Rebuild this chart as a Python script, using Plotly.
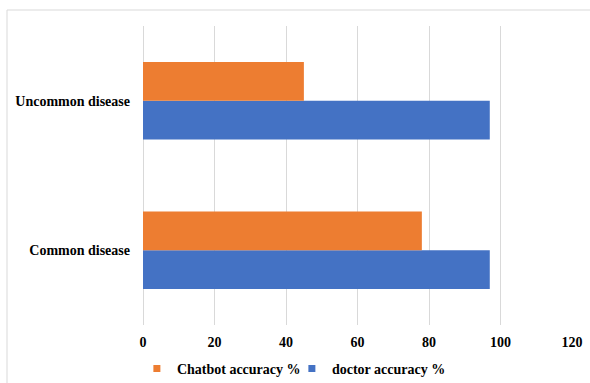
import plotly.graph_objects as go

categories = ["Common disease", "Uncommon disease"]
chatbot_accuracy = [78, 45]
doctor_accuracy = [97, 97]
x_ticks = [0, 20, 40, 60, 80, 100, 120]

ORANGE = "#ED7D31"
BLUE = "#4472C4"
FAMILY = "'Liberation Serif', 'Times New Roman', Times, serif"
FONT = dict(family=FAMILY, size=14, color="#000000", weight="bold")

fig = go.Figure()
fig.add_trace(go.Bar(y=categories, x=doctor_accuracy, orientation="h",
                     marker=dict(color=BLUE, line=dict(width=0)),
                     name="doctor accuracy %", showlegend=False))
fig.add_trace(go.Bar(y=categories, x=chatbot_accuracy, orientation="h",
                     marker=dict(color=ORANGE, line=dict(width=0)),
                     name="Chatbot accuracy %", showlegend=False))
# legend-only entries with small square markers
fig.add_trace(go.Scatter(x=[None], y=[None], mode="markers", name="doctor accuracy %",
                         marker=dict(symbol="square", size=7, color=BLUE)))
fig.add_trace(go.Scatter(x=[None], y=[None], mode="markers", name="Chatbot accuracy %",
                         marker=dict(symbol="square", size=7, color=ORANGE)))

fig.update_layout(
    width=590, height=383,
    margin=dict(l=143, r=18, t=26, b=58, autoexpand=False),
    paper_bgcolor="white", plot_bgcolor="white",
    barmode="group", bargap=0.48, bargroupgap=0,
    font=FONT,
    showlegend=True,
    legend=dict(orientation="h", traceorder="reversed", x=0.232, xanchor="left",
                xref="container", yref="container", y=0.037, yanchor="middle",
                font=FONT, itemwidth=30, entrywidth=110, bgcolor="rgba(0,0,0,0)"),
    xaxis=dict(range=[0, 120], tickvals=x_ticks, showgrid=True, gridcolor="#D9D9D9",
               gridwidth=1, zeroline=True, zerolinecolor="#D9D9D9", zerolinewidth=1,
               showline=False, ticks="", tickfont=FONT, ticklabelstandoff=7),
    yaxis=dict(categoryorder="array", categoryarray=categories, showgrid=False,
               showline=False, ticks="", tickfont=FONT, ticklabelstandoff=12),
    shapes=[
        dict(type="line", xref="paper", yref="paper", x0=-0.317, x1=1.05,
             y0=1.0535, y1=1.0535, line=dict(color="#D9D9D9", width=1)),
        dict(type="line", xref="paper", yref="paper", x0=-0.317, x1=-0.317,
             y0=1.0535, y1=-0.2, line=dict(color="#D9D9D9", width=1)),
    ],
)

fig.write_html("out.html")
